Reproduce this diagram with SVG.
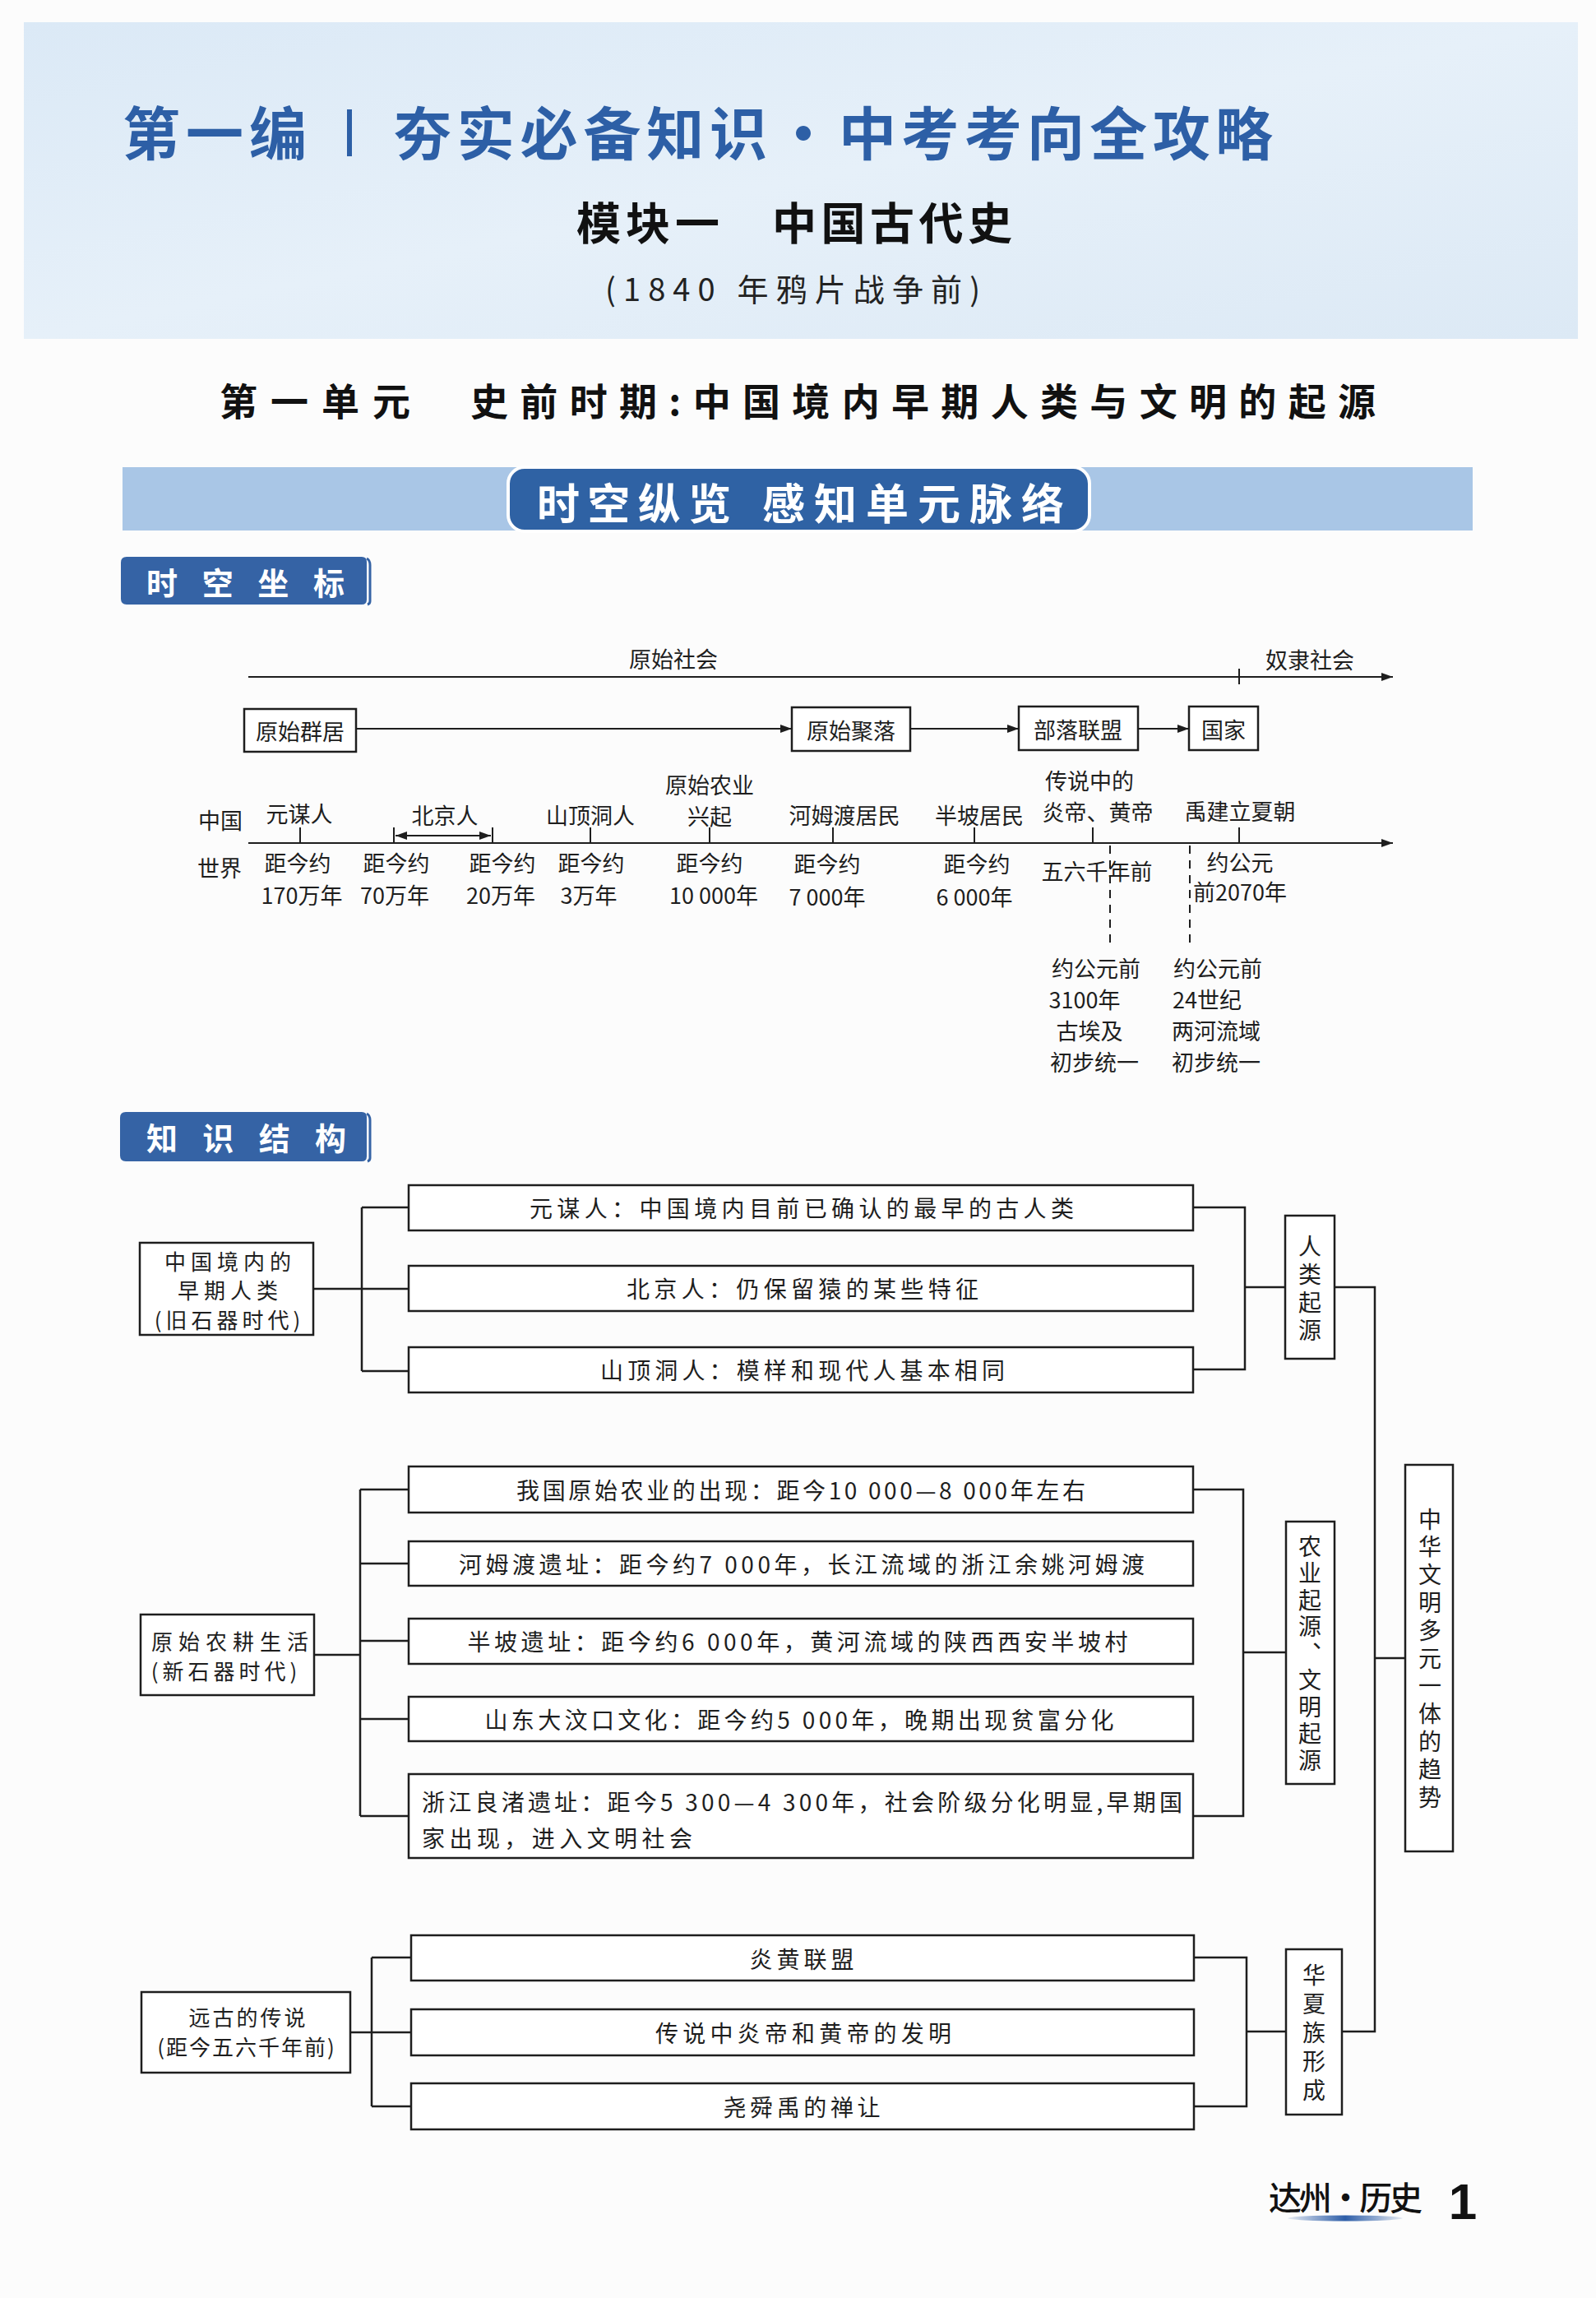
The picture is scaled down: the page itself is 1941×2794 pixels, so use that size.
<svg xmlns="http://www.w3.org/2000/svg" width="1941" height="2794" viewBox="0 0 1941 2794">
<defs>
<style>
.f{font-family:"Noto Sans CJK SC","Noto Sans",sans-serif}
.tl{font-family:"Noto Sans CJK SC","Noto Sans",sans-serif;font-size:27px;fill:#1e1e1e;text-anchor:middle;dominant-baseline:central}
.st{font-family:"Noto Sans CJK SC","Noto Sans",sans-serif;font-size:28px;fill:#1e1e1e;text-anchor:middle;dominant-baseline:central}
.sb{font-family:"Noto Sans CJK SC","Noto Sans",sans-serif;font-size:26px;fill:#1e1e1e;text-anchor:middle;dominant-baseline:central}
.sl{font-family:"Noto Sans CJK SC","Noto Sans",sans-serif;font-size:28px;fill:#1e1e1e;dominant-baseline:central}
.vt{font-family:"Noto Sans CJK SC","Noto Sans",sans-serif;font-size:28px;fill:#1e1e1e;writing-mode:vertical-rl;text-anchor:start}
.bx{fill:#ffffff;stroke:#1e1e1e;stroke-width:2.5}
.ln{fill:none;stroke:#1e1e1e;stroke-width:2.5}
.tln{fill:none;stroke:#1e1e1e;stroke-width:2}
.dash{fill:none;stroke:#1e1e1e;stroke-width:2;stroke-dasharray:10 8}
.tab{fill:#3563a5}
.tabt{font-family:"Noto Sans CJK SC","Noto Sans",sans-serif;font-size:38px;font-weight:700;fill:#ffffff;dominant-baseline:central}
.ttl{font-family:"Noto Sans CJK SC","Noto Sans",sans-serif;font-size:70px;font-weight:700;fill:#2d5fa6;dominant-baseline:central}
</style>
<marker id="ah" viewBox="0 0 14 10" refX="14" refY="5" markerWidth="14" markerHeight="10" markerUnits="userSpaceOnUse" orient="auto-start-reverse">
<path d="M0,0 L14,5 L0,10 Z" fill="#1e1e1e"/>
</marker>
<linearGradient id="hdr" x1="0" y1="0" x2="1" y2="1">
<stop offset="0" stop-color="#dbe9f6"/>
<stop offset="0.5" stop-color="#e6f0f9"/>
<stop offset="1" stop-color="#dce9f5"/>
</linearGradient>
<linearGradient id="ul" x1="0" y1="0" x2="1" y2="0">
<stop offset="0" stop-color="#2e5ea8" stop-opacity="0.1"/>
<stop offset="0.5" stop-color="#2e5ea8" stop-opacity="1"/>
<stop offset="1" stop-color="#2e5ea8" stop-opacity="0.1"/>
</linearGradient>
</defs>

<rect x="0" y="0" width="1941" height="2794" fill="#fcfcfc"/>

<!-- header -->
<g id="header">
<rect x="29" y="27" width="1890" height="385" fill="url(#hdr)"/>
<text class="ttl" x="149" y="158" textLength="224" lengthAdjust="spacing">第一编</text>
<rect x="422" y="133" width="6" height="57" fill="#2d5fa6"/>
<text class="ttl" x="479" y="158" textLength="454" lengthAdjust="spacing">夯实必备知识</text>
<text class="ttl" x="977" y="158" text-anchor="middle">·</text>
<text class="ttl" x="1020" y="158" textLength="528" lengthAdjust="spacing">中考考向全攻略</text>
<text class="f" x="701" y="268" font-size="54" font-weight="700" fill="#111" dominant-baseline="central" textLength="174" lengthAdjust="spacing">模块一</text>
<text class="f" x="939" y="268" font-size="54" font-weight="700" fill="#111" dominant-baseline="central" textLength="292" lengthAdjust="spacing">中国古代史</text>
<text class="f" x="736" y="349" font-size="38" fill="#222" dominant-baseline="central" textLength="456" lengthAdjust="spacing">(1840 年鸦片战争前)</text>
</g>

<g id="unit-title">
<text class="f" x="267" y="485" font-size="46" font-weight="700" fill="#111" dominant-baseline="central" textLength="232" lengthAdjust="spacing">第一单元</text>
<text class="f" x="572" y="485" font-size="46" font-weight="700" fill="#111" dominant-baseline="central" textLength="1101" lengthAdjust="spacing">史前时期:中国境内早期人类与文明的起源</text>
</g>

<g id="band">
<rect x="149" y="568" width="1642" height="77" fill="#a9c6e6"/>
<rect x="618" y="568" width="707" height="78" rx="20" fill="#2f62a4" stroke="#ffffff" stroke-width="4"/>
<text class="f" x="653" y="609" font-size="52" font-weight="700" fill="#ffffff" dominant-baseline="central" textLength="236" lengthAdjust="spacing">时空纵览</text>
<text class="f" x="927" y="609" font-size="52" font-weight="700" fill="#ffffff" dominant-baseline="central" textLength="367" lengthAdjust="spacing">感知单元脉络</text>
</g>

<g id="tab-1">
<path class="tab" d="M154,677 L440,677 Q446,677 446,683 L446,729 Q446,735 440,735 L154,735 Q147,735 147,728 L147,684 Q147,677 154,677 Z"/>
<path d="M446,679 Q450,681 450,687 L450,731 Q450,734 447,735" fill="none" stroke="#3563a5" stroke-width="3"/>
<text class="tabt" x="178" y="706" textLength="241" lengthAdjust="spacing">时空坐标</text>
</g>

<!-- timeline -->
<g id="connectors-timeline">
<line class="tln" x1="302" y1="823" x2="1694" y2="823" marker-end="url(#ah)"/>
<line class="tln" x1="1507" y1="813" x2="1507" y2="832"/>
<line class="tln" x1="433" y1="886" x2="963" y2="886" marker-end="url(#ah)"/>
<line class="tln" x1="1107" y1="886" x2="1239" y2="886" marker-end="url(#ah)"/>
<line class="tln" x1="1384" y1="886" x2="1446" y2="886" marker-end="url(#ah)"/>
<line class="tln" x1="302" y1="1025" x2="1694" y2="1025" marker-end="url(#ah)"/>
<line class="tln" x1="365" y1="1006" x2="365" y2="1025"/>
<line class="tln" x1="479" y1="1006" x2="479" y2="1025"/>
<line class="tln" x1="599" y1="1006" x2="599" y2="1025"/>
<line class="tln" x1="481" y1="1016" x2="597" y2="1016" marker-start="url(#ah)" marker-end="url(#ah)"/>
<line class="tln" x1="718" y1="1006" x2="718" y2="1025"/>
<line class="tln" x1="863" y1="1006" x2="863" y2="1025"/>
<line class="tln" x1="1013" y1="1006" x2="1013" y2="1025"/>
<line class="tln" x1="1185" y1="1006" x2="1185" y2="1025"/>
<line class="tln" x1="1329" y1="1006" x2="1329" y2="1025"/>
<line class="tln" x1="1507" y1="1006" x2="1507" y2="1025"/>
<line class="dash" x1="1350" y1="1028" x2="1350" y2="1152"/>
<line class="dash" x1="1447" y1="1028" x2="1447" y2="1152"/>
</g>

<g id="tl-labels">
<text class="tl" x="819" y="800">原始社会</text>
<text class="tl" x="1593" y="801">奴隶社会</text>
<text class="tl" x="268" y="996">中国</text>
<text class="tl" x="267" y="1054">世界</text>
<text class="tl" x="364" y="988">元谋人</text>
<text class="tl" x="541" y="990">北京人</text>
<text class="tl" x="718" y="990">山顶洞人</text>
<text class="tl"><tspan x="863" y="953">原始农业</tspan><tspan x="863" y="991">兴起</tspan></text>
<text class="tl" x="1027" y="990">河姆渡居民</text>
<text class="tl" x="1191" y="990">半坡居民</text>
<text class="tl"><tspan x="1325" y="948">传说中的</tspan><tspan x="1335" y="986">炎帝、黄帝</tspan></text>
<text class="tl" x="1508" y="985">禹建立夏朝</text>
<text class="tl"><tspan x="362" y="1048">距今约</tspan><tspan x="367" y="1087">170万年</tspan></text>
<text class="tl"><tspan x="482" y="1048">距今约</tspan><tspan x="480" y="1087">70万年</tspan></text>
<text class="tl"><tspan x="611" y="1048">距今约</tspan><tspan x="609" y="1087">20万年</tspan></text>
<text class="tl"><tspan x="719" y="1048">距今约</tspan><tspan x="716" y="1087">3万年</tspan></text>
<text class="tl"><tspan x="863" y="1048">距今约</tspan><tspan x="868" y="1087">10 000年</tspan></text>
<text class="tl"><tspan x="1006" y="1049">距今约</tspan><tspan x="1006" y="1089">7 000年</tspan></text>
<text class="tl"><tspan x="1188" y="1049">距今约</tspan><tspan x="1185" y="1089">6 000年</tspan></text>
<text class="tl" x="1334" y="1058">五六千年前</text>
<text class="tl"><tspan x="1508" y="1047">约公元</tspan><tspan x="1508" y="1083">前2070年</tspan></text>
<text class="tl"><tspan x="1333" y="1176">约公元前</tspan><tspan x="1319" y="1214">3100年</tspan><tspan x="1325" y="1252">古埃及</tspan><tspan x="1331" y="1290">初步统一</tspan></text>
<text class="tl"><tspan x="1481" y="1176">约公元前</tspan><tspan x="1468" y="1214">24世纪</tspan><tspan x="1479" y="1252">两河流域</tspan><tspan x="1479" y="1290">初步统一</tspan></text>
</g>

<g id="tl-qunju"><rect class="bx" x="297" y="862" width="136" height="52"/><text class="tl" x="365" y="888">原始群居</text></g>
<g id="tl-juluo"><rect class="bx" x="963" y="860" width="144" height="53"/><text class="tl" x="1035" y="887">原始聚落</text></g>
<g id="tl-lianmeng"><rect class="bx" x="1239" y="859" width="145" height="53"/><text class="tl" x="1311" y="886">部落联盟</text></g>
<g id="tl-guojia"><rect class="bx" x="1446" y="859" width="84" height="53"/><text class="tl" x="1488" y="886">国家</text></g>

<g id="tab-2">
<path class="tab" d="M153,1352 L440,1352 Q446,1352 446,1358 L446,1406 Q446,1412 440,1412 L153,1412 Q146,1412 146,1405 L146,1359 Q146,1352 153,1352 Z"/>
<path d="M446,1354 Q450,1356 450,1362 L450,1408 Q450,1411 447,1412" fill="none" stroke="#3563a5" stroke-width="3"/>
<text class="tabt" x="178" y="1381" font-size="40" textLength="243" lengthAdjust="spacing">知识结构</text>
</g>

<!-- structure connectors -->
<g id="connectors">
<path class="ln" d="M381,1567 H440 M440,1468 V1667 M440,1468 H497 M440,1567 H497 M440,1667 H497"/>
<path class="ln" d="M1451,1468 H1514 V1665 H1451 M1514,1565 H1563"/>
<path class="ln" d="M1623,1565 H1672 V2470 H1632 M1672,2016 H1709"/>
<path class="ln" d="M382,2012 H438 M438,1811 V2208 M438,1811 H497 M438,1901 H497 M438,1995 H497 M438,2090 H497 M438,2208 H497"/>
<path class="ln" d="M1451,1811 H1512 V2208 H1451 M1512,2009 H1564"/>
<path class="ln" d="M426,2471 H452 M452,2380 V2561 M452,2380 H500 M452,2471 H500 M452,2561 H500"/>
<path class="ln" d="M1452,2380 H1516 V2561 H1452 M1516,2470 H1564"/>
</g>

<g id="n-early-human">
<rect class="bx" x="170" y="1511" width="211" height="112"/>
<text class="sb"><tspan x="280" y="1532" letter-spacing="6">中国境内的</tspan><tspan x="280" y="1567" letter-spacing="6">早期人类</tspan><tspan x="279" y="1603" letter-spacing="5">(旧石器时代)</tspan></text>
</g>
<g id="n-yuanmou"><rect class="bx" x="497" y="1441" width="954" height="55"/><text class="st" x="975" y="1468" textLength="662" lengthAdjust="spacing">元谋人：中国境内目前已确认的最早的古人类</text></g>
<g id="n-beijing"><rect class="bx" x="497" y="1539" width="954" height="55"/><text class="st" x="976" y="1566" textLength="428" lengthAdjust="spacing">北京人：仍保留猿的某些特征</text></g>
<g id="n-shanding"><rect class="bx" x="497" y="1638" width="954" height="55"/><text class="st" x="976" y="1665" textLength="492" lengthAdjust="spacing">山顶洞人：模样和现代人基本相同</text></g>
<g id="n-human-origin">
<rect class="bx" x="1563" y="1478" width="60" height="174"/>
<text class="vt" x="1593" y="1501" letter-spacing="6">人类起源</text>
</g>

<g id="n-farming">
<rect class="bx" x="171" y="1963" width="211" height="98"/>
<text class="sb"><tspan x="283" y="1994" letter-spacing="7">原始农耕生活</tspan><tspan x="275" y="2030" letter-spacing="5">(新石器时代)</tspan></text>
</g>
<g id="n-a1"><rect class="bx" x="497" y="1783" width="954" height="56"/><text class="st" x="974" y="1811" textLength="692" lengthAdjust="spacing">我国原始农业的出现：距今10 000—8 000年左右</text></g>
<g id="n-a2"><rect class="bx" x="497" y="1874" width="954" height="54"/><text class="st" x="975" y="1901" textLength="834" lengthAdjust="spacing">河姆渡遗址：距今约7 000年，长江流域的浙江余姚河姆渡</text></g>
<g id="n-a3"><rect class="bx" x="497" y="1968" width="954" height="55"/><text class="st" x="970" y="1995" textLength="803" lengthAdjust="spacing">半坡遗址：距今约6 000年，黄河流域的陕西西安半坡村</text></g>
<g id="n-a4"><rect class="bx" x="497" y="2063" width="954" height="54"/><text class="st" x="972" y="2090" textLength="765" lengthAdjust="spacing">山东大汶口文化：距今约5 000年，晚期出现贫富分化</text></g>
<g id="n-a5"><rect class="bx" x="497" y="2157" width="954" height="102"/>
<text class="sl" x="513" y="2190" textLength="925" lengthAdjust="spacing">浙江良渚遗址：距今5 300—4 300年，社会阶级分化明显,早期国</text>
<text class="sl" x="513" y="2234" textLength="329" lengthAdjust="spacing">家出现，进入文明社会</text>
</g>
<g id="n-civ-origin">
<rect class="bx" x="1564" y="1850" width="59" height="319"/>
<text class="vt" x="1593" y="1866" letter-spacing="4.5">农业起源、文明起源</text>
</g>
<g id="n-trend">
<rect class="bx" x="1709" y="1781" width="58" height="470"/>
<text class="vt" x="1739" y="1833" letter-spacing="5.8">中华文明多元一体的趋势</text>
</g>

<g id="n-legend">
<rect class="bx" x="172" y="2422" width="254" height="98"/>
<text class="sb"><tspan x="302" y="2451" letter-spacing="3">远古的传说</tspan><tspan x="300" y="2487" letter-spacing="2">(距今五六千年前)</tspan></text>
</g>
<g id="n-b1"><rect class="bx" x="500" y="2353" width="952" height="55"/><text class="st" x="975" y="2381" textLength="127" lengthAdjust="spacing">炎黄联盟</text></g>
<g id="n-b2"><rect class="bx" x="500" y="2443" width="952" height="56"/><text class="st" x="977" y="2471" textLength="360" lengthAdjust="spacing">传说中炎帝和黄帝的发明</text></g>
<g id="n-b3"><rect class="bx" x="500" y="2533" width="952" height="56"/><text class="st" x="975" y="2561" textLength="191" lengthAdjust="spacing">尧舜禹的禅让</text></g>
<g id="n-huaxia">
<rect class="bx" x="1564" y="2370" width="68" height="201"/>
<text class="vt" x="1598" y="2387" letter-spacing="7.2">华夏族形成</text>
</g>

<g id="footer">
<text class="f" x="1543" y="2670" font-size="40" font-weight="500" fill="#111" dominant-baseline="central" textLength="187" lengthAdjust="spacing">达州·历史</text>
<ellipse cx="1636" cy="2697" rx="70" ry="3.5" fill="url(#ul)"/>
<text x="1779" y="2676" font-family="Liberation Sans, sans-serif" font-size="62" font-weight="700" fill="#111" text-anchor="middle" dominant-baseline="central">1</text>
</g>
</svg>
